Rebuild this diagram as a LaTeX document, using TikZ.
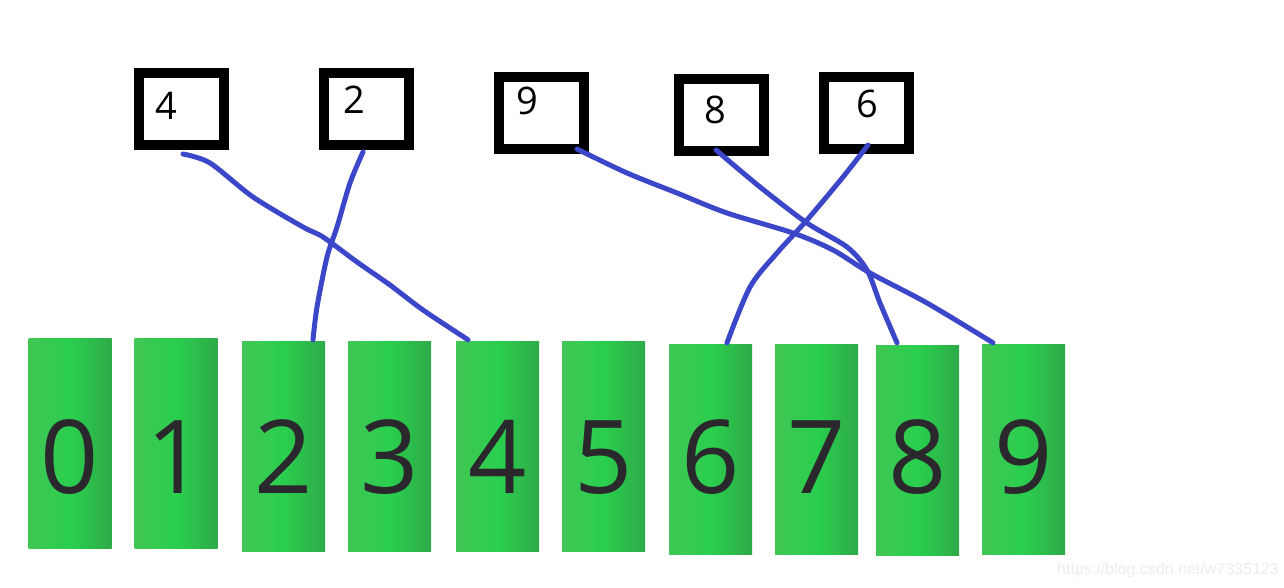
\documentclass[tikz,border=0pt]{standalone}
\usepackage{fontspec}
\setmainfont{Open Sans}
\newfontfamily\markfont{Liberation Sans}
\definecolor{cylL}{RGB}{64,198,84}
\definecolor{cylM}{RGB}{42,207,78}
\definecolor{cylR}{RGB}{46,170,72}
\definecolor{digit}{RGB}{42,40,45}
\definecolor{linkblue}{RGB}{60,70,200}
\definecolor{wmgray}{RGB}{236,236,236}
\tikzset{
  cyl/.style={minimum width=83pt,minimum height=210pt,inner sep=0pt,text depth=0pt,
    left color=cylL,right color=cylR,middle color=cylM,text=digit,
    font=\fontsize{102}{102}\selectfont},
  slot/.style={draw,line width=10pt,minimum width=85pt,minimum height=72pt,inner sep=0pt},
  slotnum/.style={inner sep=0pt,font=\fontsize{38}{38}\selectfont},
  link/.style={draw=linkblue,line width=5pt,line cap=round,line join=round},
  wmtext/.style={inner sep=0pt,text=wmgray,font=\markfont\fontsize{16}{16}\selectfont}
}
\begin{document}
\begin{tikzpicture}[x=1pt,y=-1pt]
\useasboundingbox (0,0) rectangle (1284,588);
% buckets
\node[cyl,text height=100pt] (c0) at (70,443) {0};
\node[cyl,text height=100pt] (c1) at (176,443) {1};
\node[cyl,text height=94pt] (c2) at (283.5,446) {2};
\node[cyl,text height=94pt] (c3) at (389.5,446) {3};
\node[cyl,text height=94pt] (c4) at (497.5,446) {4};
\node[cyl,text height=94pt] (c5) at (603.5,446) {5};
\node[cyl,text height=88pt] (c6) at (710.5,449) {6};
\node[cyl,text height=88pt] (c7) at (816.5,449) {7};
\node[cyl,text height=86pt] (c8) at (917.5,450) {8};
\node[cyl,text height=87pt] (c9) at (1023.5,449.5) {9};
% input values
\node[slot] (b4) at (181.5,109) {};
\node[slot] (b2) at (366,109) {};
\node[slot] (b9) at (541,113) {};
\node[slot] (b8) at (721,115) {};
\node[slot] (b6) at (866,113) {};
\node[slotnum] (n4) at ([shift={(-15.5,-3)}]b4.center) {4};
\node[slotnum] (n2) at ([shift={(-12,-9)}]b2.center) {2};
\node[slotnum] (n9) at ([shift={(-14,-12)}]b9.center) {9};
\node[slotnum] (n8) at ([shift={(-6,-5)}]b8.center) {8};
\node[slotnum] (n6) at ([shift={(1,-9)}]b6.center) {6};
% ends of the links
\coordinate (s4) at ([shift={(1.5,4)}]b4.south);
\coordinate (e4) at ([shift={(-29.5,-1)}]c4.north);
\coordinate (s2) at ([shift={(-3,2)}]b2.south);
\coordinate (e2) at ([shift={(29.5,-1)}]c2.north);
\coordinate (s9) at ([shift={(36,-5)}]b9.south);
\coordinate (e9) at ([shift={(-30.5,-1.5)}]c9.north);
\coordinate (s8) at ([shift={(-5,-6)}]b8.south);
\coordinate (e8) at ([shift={(-20.5,-2)}]c8.north);
\coordinate (s6) at ([shift={(2,-9)}]b6.south);
\coordinate (e6) at ([shift={(16.5,-1)}]c6.north);
\draw[link] plot[smooth,tension=0.5] coordinates {(s4) (210,163) (253,197) (303,227) (323,237) (357,262) (390,285) (423,310) (e4)};
\draw[link] plot[smooth,tension=0.5] coordinates {(s2) (350,183) (337,227) (327,257) (317,307) (e2)};
\draw[link] plot[smooth,tension=0.5] coordinates {(s9) (627,173) (677,193) (727,213) (793,233) (833,250) (870,273) (927,303) (e9)};
\draw[link] plot[smooth,tension=0.5] coordinates {(s8) (760,187) (807,223) (847,247) (867,270) (880,303) (e8)};
\draw[link] plot[smooth,tension=0.5] coordinates {(s6) (843,177) (807,220) (777,253) (750,287) (e6)};
\node[wmtext,anchor=west] (wm) at (1057,570) {https://blog.csdn.net/w7335123};
\end{tikzpicture}
\end{document}
